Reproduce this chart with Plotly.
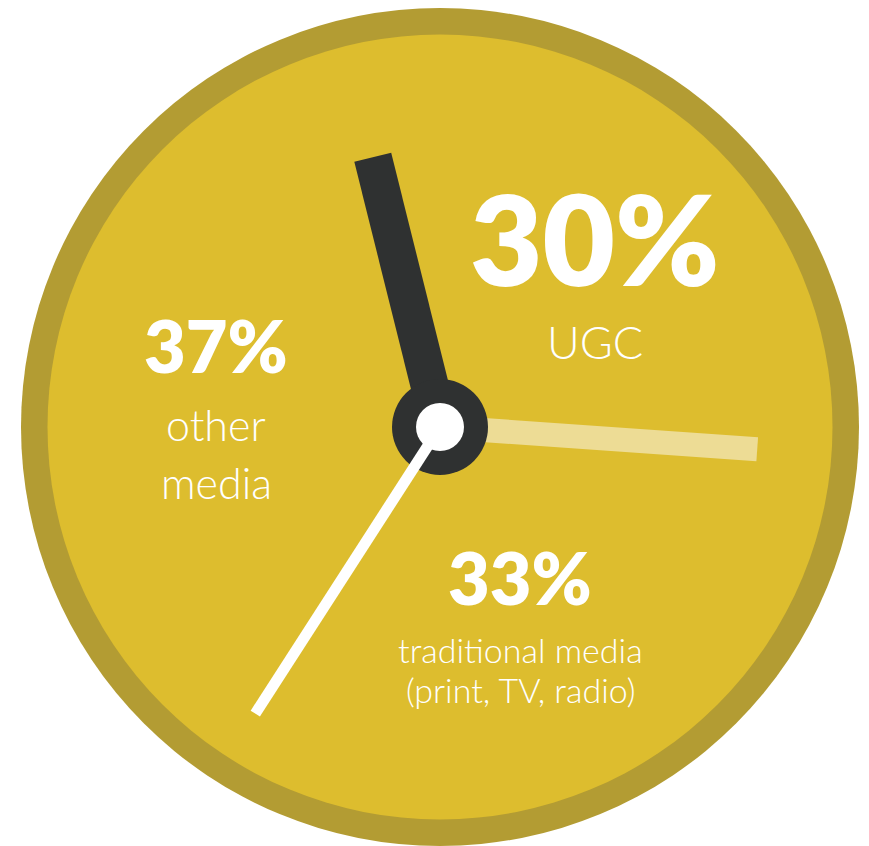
import numpy as np
import plotly.graph_objects as go

# --- data -------------------------------------------------------------
categories = ["UGC", "traditional media", "other media"]
shares = [30, 33, 37]                      # percent of time spent
value_labels = ["30%", "33%", "37%"]
caption_lines = [["UGC"], ["traditional media", "(print, TV, radio)"], ["other", "media"]]

# --- styling ----------------------------------------------------------
W, H = 869, 846
CX, CY = 440, 427                          # dial centre in page pixels
R_OUTER, R_INNER = 419, 392.5
RING = "#B39C33"
FACE = "#DDBD2E"
DARK = "#2F3131"
START_DEG = -14                            # clockwise from 12 o'clock

# one hand per category boundary (start of each slice)
hand_styles = [
    dict(color=DARK, width=38, length=278),       # start of UGC
    dict(color="#EDDC95", width=24, length=318),  # start of traditional media
    dict(color="#FFFFFF", width=11, length=341),  # start of other media
]
draw_order = [1, 0, "hub", 2, "pin"]

# label anchors (dial coordinates, y up, origin at centre)
label_pos = [
    dict(x=155, value_y=189, value_size=125, cap_y=[85], cap_size=45),
    dict(x=80, value_y=-150, value_size=72, cap_y=[-222, -262], cap_size=34),
    dict(x=-224, value_y=82, value_size=72, cap_y=[2.5, -55], cap_size=43),
]

# --- geometry from data -----------------------------------------------
cum = np.concatenate([[0], np.cumsum(shares)[:-1]])
hand_angles = START_DEG + 360.0 * cum / sum(shares)

fig = go.Figure()

def hand_trace(i):
    st = hand_styles[i]
    a = np.deg2rad(hand_angles[i])
    return go.Scatter(
        x=[0, st["length"] * np.sin(a)],
        y=[0, st["length"] * np.cos(a)],
        mode="lines",
        line=dict(color=st["color"], width=st["width"]),
        hoverinfo="skip",
        showlegend=False,
    )

for item in draw_order:
    if item == "hub":
        fig.add_trace(go.Scatter(x=[0], y=[0], mode="markers",
                                 marker=dict(size=96, color=DARK, line=dict(width=0)),
                                 hoverinfo="skip", showlegend=False))
    elif item == "pin":
        fig.add_trace(go.Scatter(x=[0], y=[0], mode="markers",
                                 marker=dict(size=48, color="#FFFFFF", line=dict(width=0)),
                                 hoverinfo="skip", showlegend=False))
    else:
        fig.add_trace(hand_trace(item))

# dial face: outer ring and inner face
for r, col in [(R_OUTER, RING), (R_INNER, FACE)]:
    fig.add_shape(type="circle", xref="x", yref="y", x0=-r, x1=r, y0=-r, y1=r,
                  fillcolor=col, line=dict(width=0), layer="below")

# labels
for i, pos in enumerate(label_pos):
    fig.add_annotation(x=pos["x"], y=pos["value_y"], text=value_labels[i],
                       showarrow=False, xref="x", yref="y",
                       xanchor="center", yanchor="middle",
                       font=dict(family="Lato", size=pos["value_size"],
                                 color="#FFFFFF", weight=800))
    for line, yy in zip(caption_lines[i], pos["cap_y"]):
        fig.add_annotation(x=pos["x"], y=yy, text=line,
                           showarrow=False, xref="x", yref="y",
                           xanchor="center", yanchor="middle",
                           font=dict(family="Lato", size=pos["cap_size"],
                                     color="#FFFFFF", weight=300))

fig.update_layout(
    width=W, height=H, autosize=False,
    margin=dict(l=0, r=0, t=0, b=0, pad=0),
    paper_bgcolor="#FFFFFF", plot_bgcolor="rgba(0,0,0,0)",
    xaxis=dict(range=[-CX, W - CX], visible=False, fixedrange=True),
    yaxis=dict(range=[CY - H, CY], visible=False, fixedrange=True),
    showlegend=False,
)

fig.write_html("out.html", config={"displayModeBar": False})
